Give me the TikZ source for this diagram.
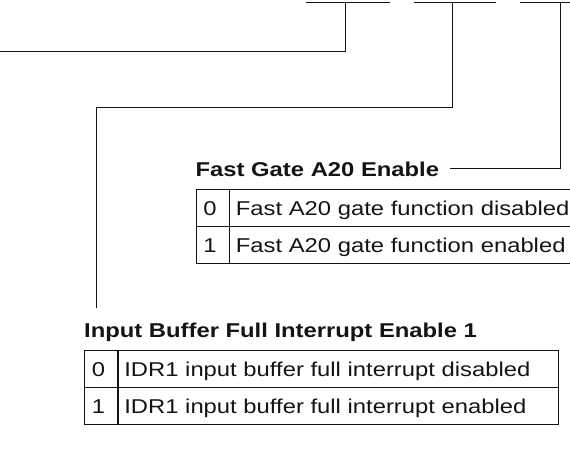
\documentclass[tikz,border=0pt]{standalone}
\usepackage{fontspec}
\setmainfont{Liberation Sans}[FakeStretch=1.19]
\usetikzlibrary{positioning,calc}
\definecolor{ink}{HTML}{141414}
\newcommand{\RowH}{37}
\newcommand{\BarY}{2.5}
\newcommand{\BitW}{18pt}

\begin{document}
\begin{tikzpicture}[
    x=1pt, y=-1pt, ink,
    font=\fontsize{20}{24}\selectfont,
    wire/.style={line width=0.9pt, draw=ink},
    heading/.style={font=\fontsize{20}{24}\selectfont\bfseries, inner sep=0pt, anchor=base west},
    bitcell/.style={draw=ink, line width=0.9pt, text width=\BitW, align=left, minimum height=\RowH pt, inner xsep=7.5pt, inner ysep=0pt, text height=14.3pt, text depth=0pt},
    desccell/.style={draw=ink, line width=0.9pt, minimum height=\RowH pt, inner xsep=6pt, inner ysep=0pt, text height=14.3pt, text depth=0pt, align=left},
  ]
\useasboundingbox (0,0) rectangle (570,466);
\clip (0,0) rectangle (570,466);

% --- Fast Gate A20 Enable: heading over a two-row table ----------------------
\coordinate (fgtop) at (195.5,189);
\foreach \v/\state in {0/disabled, 1/enabled} {
  \node[bitcell, anchor=north west] (fg\v) at ($(fgtop)+(0,\RowH*\v)$) {\v};
  \node[desccell, text width=368pt, right=0pt of fg\v] (fgd\v) {Fast A20 gate function \state};
}
\node[heading] (fgt) at ($(fg0.north west)+(0,-13)$) {Fast Gate A20 Enable};

% --- Input Buffer Full Interrupt Enable 1 ------------------------------------
\coordinate (ibtop) at (84,350);
\foreach \v/\state in {0/disabled, 1/enabled} {
  \node[bitcell, anchor=north west] (ib\v) at ($(ibtop)+(0,\RowH*\v)$) {\v};
  \node[desccell, text width=428pt, right=0pt of ib\v] (ibd\v) {IDR1 input buffer full interrupt \state};
}
\node[heading] (ibt) at ($(ib0.north west)+(0,-13)$) {Input Buffer Full Interrupt Enable 1};

% --- The bit bars along the top, and the leaders that hang from them ---------
\foreach \l/\r in {306/390, 413.5/496, 520/580}
  \draw[wire] (\l,\BarY) -- (\r,\BarY);
\coordinate (b1) at (345.5,\BarY);
\coordinate (b2) at (452,\BarY);
\coordinate (b3) at (560.5,\BarY);
\coordinate (e1) at (-5,51);
\coordinate (j2) at (0,107);
\coordinate (e2) at ($(ibt.north west)+(12,-14)$);
\draw[wire] (b1) |- (e1);
\draw[wire] (b2) |- (e2 |- j2) -- (e2);
\draw[wire] (b3) |- ($(fgt.east)+(11,0)$);

\end{tikzpicture}
\end{document}
